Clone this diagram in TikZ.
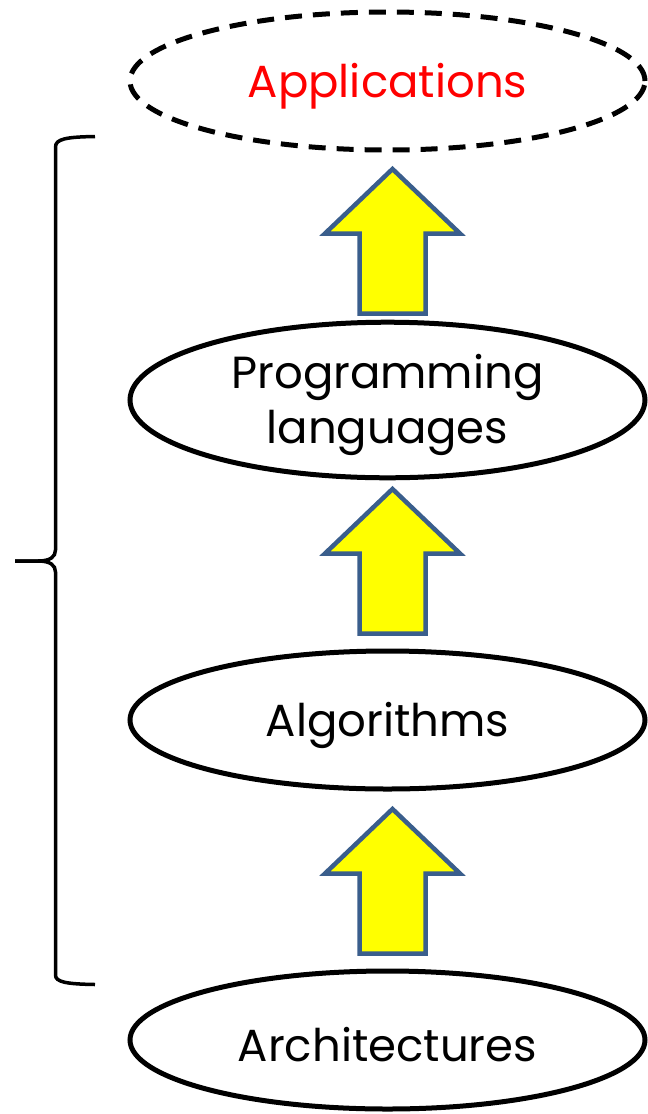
\documentclass[tikz,border=0pt]{standalone}
\usepackage{fontspec}
\setmainfont{Poppins}
\usetikzlibrary{shapes.geometric}
\definecolor{arrowedge}{HTML}{3A5E8C}
\definecolor{arrowfill}{HTML}{FFFF00}
\newcommand{\lowertext}[1]{\raisebox{-5pt}[\height][\depth]{#1}}
\tikzset{
  layer/.style={ellipse, draw=black, line width=5pt, minimum width=515pt, minimum height=138pt, inner sep=0pt, align=center,
    font=\fontsize{45}{55}\selectfont},
  dashedlayer/.style={layer, dash pattern=on 17pt off 11pt},
  blockup/.style={draw=arrowedge, fill=arrowfill, line width=4.5pt, line join=miter},
  bracepath/.style={draw=black, line width=3.5pt},
}
\begin{document}
\begin{tikzpicture}[x=1pt,y=-1pt]
\useasboundingbox (0,0) rectangle (648,1114);
\node[dashedlayer, text=red] (app) at (387.5,81) {\lowertext{Applications}};
\node[layer] (prog) at (387.5,400) {\lowertext{\begin{tabular}{@{}c@{}}Programming\\languages\end{tabular}}};
\node[layer] (alg) at (387.5,720) {\lowertext{Algorithms}};
\node[layer] (arch) at (387.5,1040) {\lowertext{Architectures}};
% block arrows: tip, head base, shaft
\foreach \t/\nm in {169/a1, 489/a2, 809/a3}{
  \draw[blockup] (392.5,\t) coordinate (\nm tip) -- (460,\t+64.5) -- (425.5,\t+64.5) -- (425.5,\t+144.5)
    -- (359.5,\t+144.5) -- (359.5,\t+64.5) -- (325,\t+64.5) -- cycle;
}
% brace
\coordinate (btop) at (95,136.5);
\coordinate (btip) at (15,561);
\coordinate (bbot) at (95,984.5);
\draw[bracepath] (btop) .. controls (66,137) and (55.5,139) .. (55.5,147) -- (55.5,550)
  .. controls (55.5,557) and (50,561) .. (38,561) -- (btip);
\draw[bracepath] (btip) -- (38,561) .. controls (50,561) and (55.5,565) .. (55.5,572) -- (55.5,975)
  .. controls (55.5,982) and (66,984) .. (bbot);
\end{tikzpicture}
\end{document}
